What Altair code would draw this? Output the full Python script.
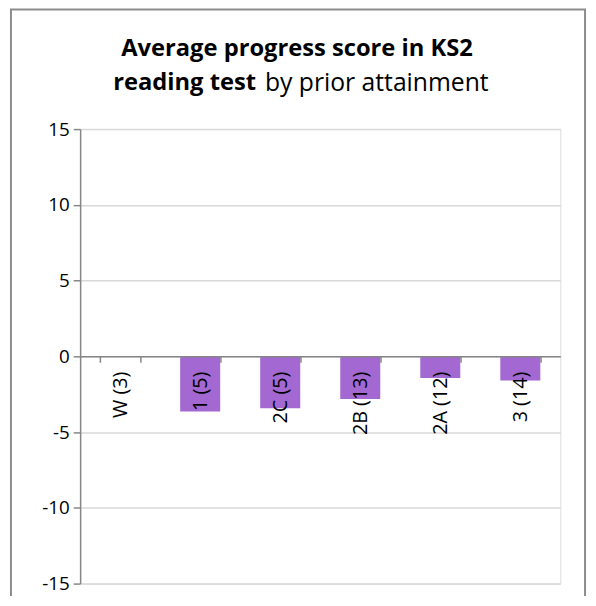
import altair as alt
import pandas as pd

categories = ["W (3)", "1 (5)", "2C (5)", "2B (13)", "2A (12)", "3 (14)"]
values = [0.0, -3.64, -3.42, -2.81, -1.43, -1.60]
y_ticks = [-15, -10, -5, 0, 5, 10, 15]

title_line1 = "Average progress score in KS2"
title_bold2 = "reading test"
title_norm2 = "by prior attainment"

FONT = "Open Sans"
W, H = 486, 460

df = pd.DataFrame({"cat": categories, "val": values})
one = pd.DataFrame({"a": [0]})

bars = alt.Chart(df).mark_bar(color="#a368d2").encode(
    x=alt.X("cat:N", sort=categories, title=None,
            scale=alt.Scale(paddingInner=0.5, paddingOuter=0.25),
            axis=alt.Axis(orient="bottom", offset=-H / 2, labelAngle=-90,
                          labelFontSize=20, labelFont=FONT, labelColor="#000000",
                          labelPadding=9, tickBand="extent", tickSize=6,
                          tickColor="#868686", tickWidth=1.5,
                          domainColor="#868686", domainWidth=1.5, grid=False,
                          labelBaseline="middle", zindex=1, labelLimit=0)),
    y=alt.Y("val:Q", title=None,
            scale=alt.Scale(domain=[-15, 15], nice=False, zero=False),
            axis=alt.Axis(values=y_ticks, labelFontSize=19,
                          labelExpr="replace(datum.label, '\u2212', '-')",
                          labelFont=FONT, labelColor="#000000", labelPadding=4,
                          tickSize=7, tickColor="#868686", tickWidth=1.5,
                          domainColor="#868686", domainWidth=1.5,
                          gridColor="#d9d9d9", gridWidth=1.5)),
)

frame = alt.Chart(one).mark_rect(fillOpacity=0, stroke="#8c8c8c", strokeWidth=2).encode(
    x=alt.value(-70), x2=alt.value(511), y=alt.value(-121), y2=alt.value(520)
)

t1 = alt.Chart(one).mark_text(font=FONT, fontSize=24, fontWeight="bold",
                              align="center", baseline="middle", color="#000000").encode(
    x=alt.value(219.5), y=alt.value(-81), text=alt.value(title_line1))
t2 = alt.Chart(one).mark_text(font=FONT, fontSize=24, fontWeight="bold",
                              align="right", baseline="middle", color="#000000").encode(
    x=alt.value(178), y=alt.value(-47), text=alt.value(title_bold2))
t3 = alt.Chart(one).mark_text(font=FONT, fontSize=25, fontWeight="normal",
                              align="left", baseline="middle", color="#000000").encode(
    x=alt.value(187), y=alt.value(-47), text=alt.value(title_norm2))

chart = alt.layer(bars, frame, t1, t2, t3).properties(
    width=W, height=H,
    autosize=alt.AutoSizeParams(type="none"),
    padding={"left": 73, "top": 119, "right": 28, "bottom": 9},
).configure_view(stroke=None).configure(background="#ffffff")

chart.save("out.html", embed_options={"renderer": "svg", "actions": False})
